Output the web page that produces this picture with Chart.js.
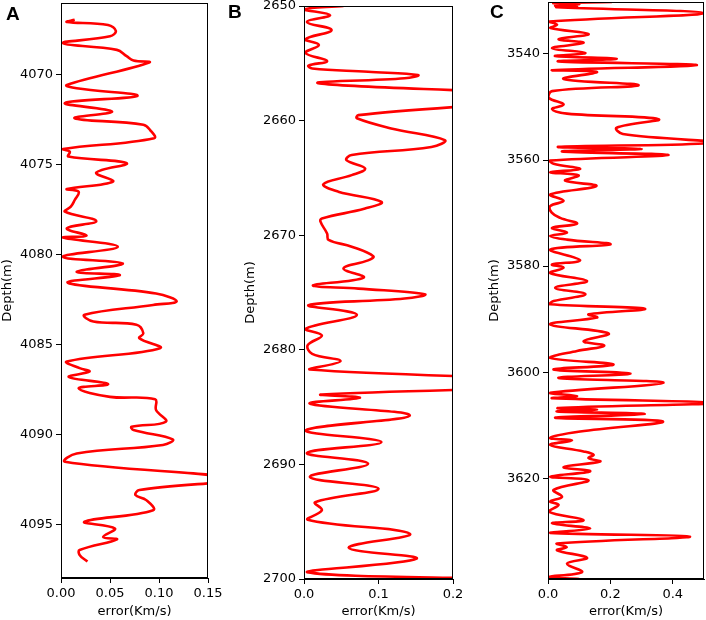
<!DOCTYPE html>
<html>
<head>
<meta charset="utf-8">
<script src="https://cdn.jsdelivr.net/npm/chart.js@4.4.1/dist/chart.umd.min.js"></script>
<style>
  html, body { margin: 0; padding: 0; background: #fff; }
  #wrap { position: relative; width: 706px; height: 620px; overflow: hidden; }
  canvas { position: absolute; top: 0; }
  .lbl { position: absolute; font: bold 19px "Liberation Sans", Arial, sans-serif; line-height: 19px; color: #000; }
</style>
</head>
<body>
<div id="wrap">
  <canvas id="cA" width="230" height="620" style="left:0px"></canvas>
  <canvas id="cB" width="230" height="620" style="left:243px"></canvas>
  <canvas id="cC" width="219" height="620" style="left:487px"></canvas>
  <div class="lbl" style="left:6px;top:4px">A</div>
  <div class="lbl" style="left:228px;top:2px">B</div>
  <div class="lbl" style="left:490px;top:2px">C</div>
</div>
<script>
// ---- Panel A ----
const depthA = [4066.98,4067.1,4067.27,4067.6,4067.9,4068.28,4068.65,4069.0,4069.24,4069.35,4070.6,4070.78,4071.2,4071.6,4072.07,4072.44,4072.8,4073.1,4073.55,4074.15,4074.3,4074.57,4074.94,4075.46,4075.96,4076.37,4076.52,4076.98,4077.35,4077.63,4078.15,4078.55,4078.96,4079.06,4079.57,4080.13,4080.5,4080.96,4081.15,4081.57,4082.17,4082.6,4082.8,4083.35,4083.72,4083.9,4084.37,4084.65,4085.2,4085.94,4086.31,4086.5,4086.8,4087.19,4087.43,4087.9,4088.04,4088.63,4089.28,4089.56,4089.74,4090.26,4090.57,4091.04,4091.5,4092.45,4093.07,4093.35,4093.63,4094.19,4094.83,4095.2,4095.67,4095.81,4096.4,4096.67,4097.04];
const errorA = [0.014,0.006,0.048,0.056,0.05,0.002,0.057,0.067,0.074,0.09,0.006,0.016,0.078,0.004,0.052,0.014,0.084,0.091,0.095,0.002,0.009,0.0075,0.067,0.036,0.053,0.006,0.018,0.014,0.01,0.004,0.036,0.006,0.026,0.002,0.058,0.002,0.063,0.016,0.06,0.007,0.097,0.118,0.094,0.024,0.033,0.077,0.084,0.08,0.101,0.006,0.019,0.029,0.008,0.048,0.018,0.05,0.096,0.097,0.107,0.072,0.074,0.114,0.104,0.016,0.004,0.175,0.08,0.076,0.087,0.094,0.024,0.055,0.043,0.057,0.019,0.019,0.027];
const xTicksA = [0, 0.05, 0.10, 0.15];
const yTicksA = [4070, 4075, 4080, 4085, 4090, 4095];

// ---- Panel B ----
const depthB = [2650.0,2650.3,2650.8,2651.4,2652.1,2652.9,2653.4,2654.1,2654.8,2655.2,2655.45,2655.74,2656.03,2656.3,2656.75,2657.95,2659.52,2659.8,2660.68,2661.7,2662.3,2663.0,2663.45,2664.18,2664.76,2665.55,2666.2,2667.09,2667.67,2668.54,2668.8,2669.85,2670.4,2671.0,2671.83,2672.2,2672.9,2673.7,2674.37,2674.66,2675.15,2675.53,2676.11,2676.95,2678.17,2678.75,2679.6,2680.35,2680.99,2681.72,2682.9,2683.9,2684.19,2684.7,2685.73,2687.03,2688.05,2689.0,2689.94,2691.1,2692.12,2693.3,2694.0,2694.83,2696.05,2697.27,2698.23,2699.4,2700.05];
const errorB = [0.053,0.001,0.035,0.004,0.037,0.002,0.02,0.002,0.031,0.006,0.011,0.086,0.153,0.135,0.021,0.32,0.073,0.071,0.117,0.189,0.171,0.064,0.057,0.082,0.064,0.026,0.046,0.104,0.082,0.024,0.022,0.031,0.033,0.064,0.093,0.086,0.053,0.08,0.012,0.073,0.162,0.135,0.006,0.071,0.002,0.024,0.005,0.011,0.049,0.008,0.42,0.024,0.075,0.008,0.142,0.002,0.104,0.004,0.086,0.008,0.1,0.015,0.024,0.005,0.142,0.06,0.151,0.004,0.3];
const xTicksB = [0, 0.1, 0.2];
const yTicksB = [2650, 2660, 2670, 2680, 2690, 2700];

// ---- Panel C ----
const depthC = [3530.2,3530.4,3530.6,3530.9,3531.06,3531.2,3532.3,3533.9,3534.5,3535.1,3536.25,3537.2,3537.9,3538.9,3539.8,3540.4,3540.9,3541.4,3542.1,3543.06,3543.4,3544.7,3545.9,3547.0,3548.25,3549.5,3550.4,3551.25,3552.3,3553.9,3555.1,3556.7,3557.5,3557.9,3558.4,3559.06,3560.1,3560.7,3561.7,3562.3,3562.9,3563.9,3564.9,3566.5,3567.7,3568.7,3569.9,3570.9,3572.0,3572.8,3573.7,3574.3,3575.0,3575.9,3576.9,3578.9,3579.7,3580.3,3581.3,3582.8,3584.1,3585.3,3586.6,3587.2,3588.05,3589.1,3589.7,3591.0,3592.7,3594.15,3595.0,3596.0,3597.3,3598.55,3599.5,3600.25,3601.1,3602.0,3603.9,3604.5,3604.9,3605.8,3606.75,3607.1,3607.4,3607.9,3608.6,3609.3,3611.2,3612.4,3612.9,3613.7,3614.95,3615.6,3616.2,3616.85,3617.9,3618.7,3619.7,3620.4,3622.2,3623.5,3624.4,3625.0,3626.3,3627.9,3628.5,3629.5,3630.3,3631.0,3632.3,3633.0,3633.6,3635.0,3636.1,3637.7,3638.6,3639.0];
const errorC = [0.205,0.018,0.10,0.023,0.093,0.029,0.50,0.005,0.029,0.008,0.13,0.034,0.114,0.013,0.12,0.023,0.22,0.034,0.477,0.013,0.157,0.05,0.29,0.013,0.002,0.05,0.013,0.061,0.354,0.22,0.24,0.53,0.034,0.30,0.045,0.386,0.007,0.018,0.103,0.007,0.098,0.055,0.155,0.007,0.05,0.007,0.012,0.039,0.093,0.013,0.061,0.007,0.061,0.2,0.007,0.103,0.013,0.05,0.007,0.125,0.023,0.12,0.018,0.007,0.31,0.13,0.157,0.007,0.194,0.114,0.18,0.093,0.007,0.21,0.018,0.264,0.034,0.37,0.007,0.093,0.013,0.53,0.034,0.157,0.029,0.31,0.023,0.368,0.103,0.007,0.077,0.007,0.114,0.146,0.13,0.167,0.05,0.135,0.007,0.13,0.018,0.045,0.007,0.034,0.002,0.114,0.013,0.135,0.007,0.455,0.029,0.06,0.029,0.125,0.061,0.109,0.002,0.10];
const xTicksC = [0, 0.2, 0.4];
const yTicksC = [3540, 3560, 3580, 3600, 3620];

Chart.defaults.font.family = '"DejaVu Sans", sans-serif';
Chart.defaults.font.size = 13;
Chart.defaults.color = '#000';

const framePlugin = {
  id: 'frame',
  afterDraw(chart) {
    const a = chart.chartArea, ctx = chart.ctx;
    ctx.save();
    ctx.strokeStyle = '#000';
    ctx.lineWidth = 1;
    ctx.strokeRect(a.left + 0.5, a.top + 0.5, a.right - a.left - 1, a.bottom - a.top - 1);
    ctx.restore();
  }
};

function noPad(s) { s.paddingLeft = 0; s.paddingRight = 0; s.paddingTop = 0; s.paddingBottom = 0; }

function makePanel(id, depth, err, xTicks, yTicks, xMin, xMax, yMin, yMax, xDec, pad, xAxisH) {
  const pts = depth.map((d, i) => ({ x: err[i], y: d }));
  new Chart(document.getElementById(id), {
    type: 'scatter',
    data: { datasets: [{ data: pts, showLine: true, borderColor: '#ff0000', borderWidth: 2.6,
      pointRadius: 0, tension: 0.4, fill: false, clip: 0 }] },
    options: {
      responsive: false, animation: false, devicePixelRatio: 1,
      layout: { padding: pad },
      plugins: { legend: { display: false }, tooltip: { enabled: false } },
      scales: {
        x: {
          type: 'linear', min: xMin, max: xMax,
          afterBuildTicks: s => { s.ticks = xTicks.map(v => ({ value: v })); },
          afterFit: s => { s.height = xAxisH; noPad(s); },
          ticks: { callback: v => Number(v).toFixed(xDec), maxRotation: 0, padding: 3, color: '#000' },
          grid: { drawOnChartArea: false, tickLength: 5, tickColor: '#000', color: '#000' },
          border: { display: true, color: '#000' },
          title: { display: true, text: 'error(Km/s)', padding: { top: 0, bottom: 1 }, color: '#000' }
        },
        y: {
          type: 'linear', min: yMin, max: yMax, reverse: true,
          afterBuildTicks: s => { s.ticks = yTicks.map(v => ({ value: v })); },
          afterFit: s => { s.width = 61; noPad(s); },
          ticks: { callback: v => String(v), padding: 3, color: '#000' },
          grid: { drawOnChartArea: false, tickLength: 5, tickColor: '#000', color: '#000' },
          border: { display: true, color: '#000' },
          title: { display: true, text: 'Depth(m)', padding: { top: 0, bottom: 0 }, color: '#000' }
        }
      }
    },
    plugins: [framePlugin]
  });
}

makePanel('cA', depthA, errorA, xTicksA, yTicksA, 0, 0.15, 4066.05, 4097.95, 2, { top: 3, right: 22, bottom: 0, left: 0 }, 42);
makePanel('cB', depthB, errorB, xTicksB, yTicksB, 0, 0.2, 2650, 2700, 1, { top: 6, right: 20, bottom: 0, left: 0 }, 41);
makePanel('cC', depthC, errorC, xTicksC, yTicksC, 0, 0.5, 3530.2, 3639, 1, { top: 2, right: 2, bottom: 0, left: 0 }, 41);
</script>
</body>
</html>
